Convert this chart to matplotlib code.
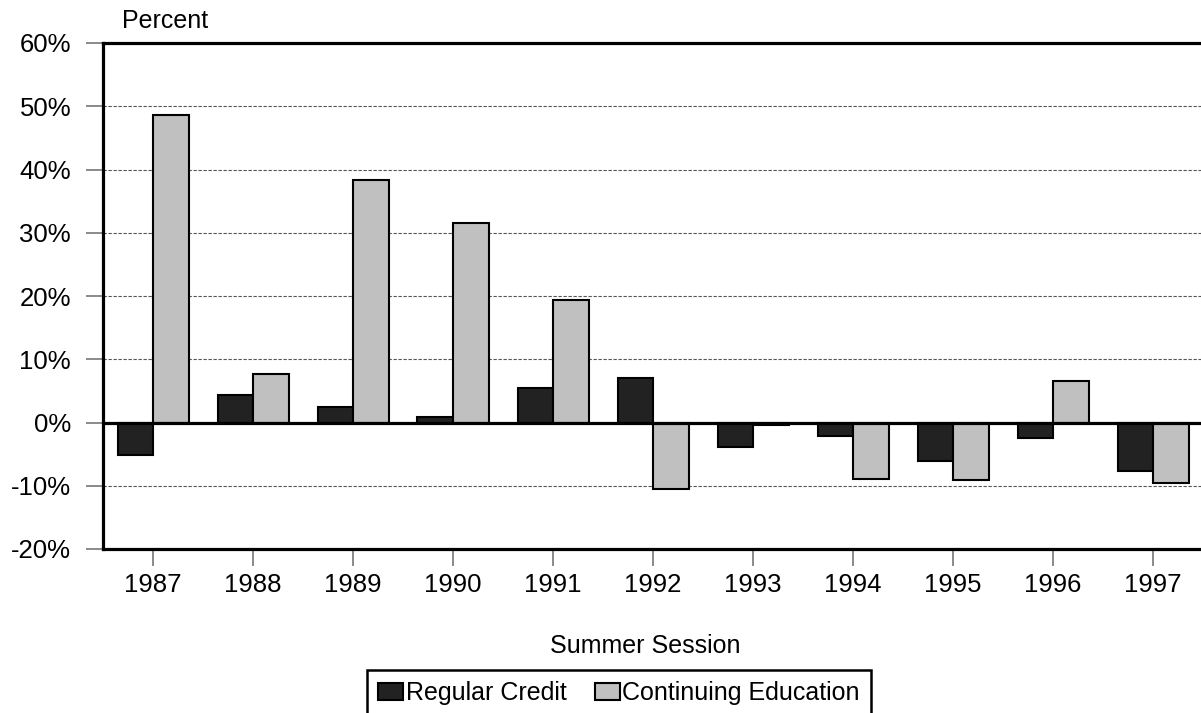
import matplotlib
matplotlib.use("Agg")
import matplotlib.pyplot as plt
import numpy as np
from matplotlib.ticker import FuncFormatter

years = ["1987", "1988", "1989", "1990", "1991", "1992", "1993", "1994", "1995", "1996", "1997"]
regular_credit = [-5.1, 4.3, 2.4, 0.9, 5.5, 7.1, -3.8, -2.2, -6.1, -2.5, -7.7]
continuing_education = [48.6, 7.7, 38.4, 31.5, 19.3, -10.5, -0.4, -8.9, -9.1, 6.6, -9.6]
series_names = ["Regular Credit", "Continuing Education"]
yticks = [-20, -10, 0, 10, 20, 30, 40, 50, 60]

plt.rcParams['font.family'] = ['Liberation Sans', 'DejaVu Sans']
FS = 18.5

W, H = 1201, 713
fig = plt.figure(figsize=(W / 100, H / 100), dpi=100)
left_px, right_px, top_px, bot_px = 103, 1203, 43, 549
ax = fig.add_axes([left_px / W, 1 - bot_px / H, (right_px - left_px) / W, (bot_px - top_px) / H])

x = np.arange(len(years))
bw = 0.355
ax.bar(x - bw / 2, regular_credit, width=bw, color="#222222", edgecolor="black", linewidth=1.5,
       label=series_names[0], zorder=3)
ax.bar(x + bw / 2, continuing_education, width=bw, color="#c0c0c0", edgecolor="black", linewidth=1.5,
       label=series_names[1], zorder=3)

ax.set_xlim(-0.5, len(years) - 0.5)
ax.set_ylim(-20, 60)
ax.set_yticks(yticks)
ax.yaxis.set_major_formatter(FuncFormatter(lambda v, p: f"{int(v)}%"))
ax.set_xticks(x)
ax.set_xticklabels(years)

for v in yticks:
    if v not in (-20, 0, 60):
        ax.axhline(v, color="#555555", linestyle=(0, (3, 1.5)), linewidth=0.8, zorder=1)
ax.axhline(0, color="black", linewidth=2.3, zorder=4)

for s in ["left", "top", "bottom"]:
    ax.spines[s].set_linewidth(2.3)
    ax.spines[s].set_color("black")
ax.spines["right"].set_visible(False)

ax.tick_params(axis="both", labelsize=FS, color="#777777", length=12, width=1.2, direction="out")
ax.tick_params(axis="x", pad=5.5)
ax.tick_params(axis="y", pad=11)

fig.text(122 / W, 1 - 28 / H, "Percent", fontsize=18, ha="left", va="baseline")
fig.text(645 / W, 1 - 653 / H, "Summer Session", fontsize=18, ha="center", va="baseline")

leg = fig.legend(loc="upper left", bbox_to_anchor=(367 / W, 1 - 670 / H), ncol=2, fontsize=18,
                 frameon=True, fancybox=False, edgecolor="black", framealpha=1,
                 handlelength=1.0, handleheight=0.68, handletextpad=0.12, columnspacing=1.1,
                 borderpad=0.45, borderaxespad=0)
leg.get_frame().set_linewidth(1.8)

fig.savefig("out.png", dpi=100)
